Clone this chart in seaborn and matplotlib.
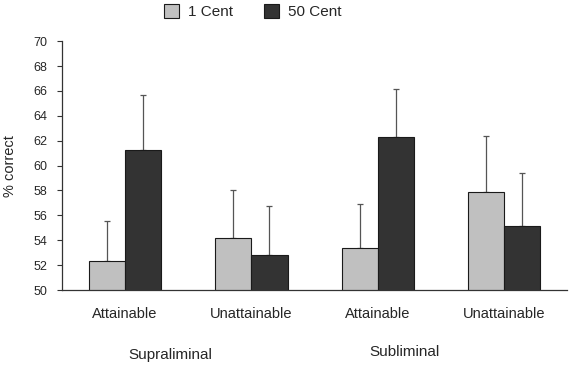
import matplotlib
matplotlib.use('Agg')
import matplotlib.pyplot as plt
import numpy as np
import pandas as pd
import seaborn as sns

# data
conditions = ['Attainable', 'Unattainable', 'Attainable ', 'Unattainable ']
tick_labels = ['Attainable', 'Unattainable', 'Attainable', 'Unattainable']
rewards = ['1 Cent', '50 Cent']
cent1_means = [52.3, 54.15, 53.35, 57.85]
cent50_means = [61.25, 52.85, 62.3, 55.15]
cent1_err = [3.27, 3.91, 3.58, 4.49]
cent50_err = [4.44, 3.93, 3.88, 4.23]
groups = ['Supraliminal', 'Subliminal']
group_pos = [0.36, 2.21]

df = pd.DataFrame({
    'condition': conditions * 2,
    'reward': [rewards[0]] * 4 + [rewards[1]] * 4,
    'value': cent1_means + cent50_means,
})

sns.set_style('white')
plt.rcParams['font.family'] = ['Liberation Sans', 'DejaVu Sans']

fig = plt.figure(figsize=(5.7, 3.67), dpi=100)
ax = fig.add_axes([0.1088, 0.2098, 0.886, 0.678])

palette = {rewards[0]: '#c0c0c0', rewards[1]: '#333333'}
sns.barplot(data=df, x='condition', y='value', hue='reward', order=conditions,
            hue_order=rewards, palette=palette, width=0.572, gap=0,
            errorbar=None, edgecolor='#1a1a1a', linewidth=0.8, saturation=1,
            ax=ax, legend=False)

# one-sided error bars
for cont, means, errs in zip(ax.containers, [cent1_means, cent50_means],
                             [cent1_err, cent50_err]):
    xs = [p.get_x() + p.get_width() / 2 for p in cont.patches]
    ax.errorbar(xs, means, yerr=[np.zeros(len(errs)), errs], fmt='none',
                ecolor='#555555', elinewidth=0.9, capsize=2.2, capthick=0.9,
                zorder=0)

ax.set_ylim(50, 70)
ax.set_xlim(-0.5, 3.5)
ax.set_yticks(np.arange(50, 71, 2))
ax.tick_params(axis='y', left=True, length=3.5, width=0.8, color='#333333',
               pad=7, labelsize=9)
ax.tick_params(axis='x', bottom=False, length=0, pad=12, labelsize=10.5)
ax.set_xticks(range(4))
ax.set_xticklabels(tick_labels)
ax.set_xlabel('')
ax.set_ylabel('% correct', fontsize=10.5, labelpad=12)

for s in ['left', 'bottom']:
    ax.spines[s].set_linewidth(0.9)
    ax.spines[s].set_color('#333333')
ax.spines['top'].set_visible(False)
ax.spines['right'].set_visible(False)

# group labels beneath the categories
for name, xp, yp in zip(groups, group_pos, [-0.26, -0.25]):
    ax.text(xp, yp, name, transform=ax.get_xaxis_transform(), ha='center',
            va='center', fontsize=11)

# legend
handles = [plt.Rectangle((0, 0), 1, 1, facecolor=palette[r], edgecolor='#1a1a1a',
                         linewidth=0.8) for r in rewards]
fig.legend(handles, rewards, loc='center', bbox_to_anchor=(0.443, 0.968), ncol=2,
           frameon=False, fontsize=11, handlelength=1.0, handleheight=1.0,
           handletextpad=0.6, columnspacing=2.0, borderpad=0)

plt.savefig('out.png', dpi=100)
plt.close()
